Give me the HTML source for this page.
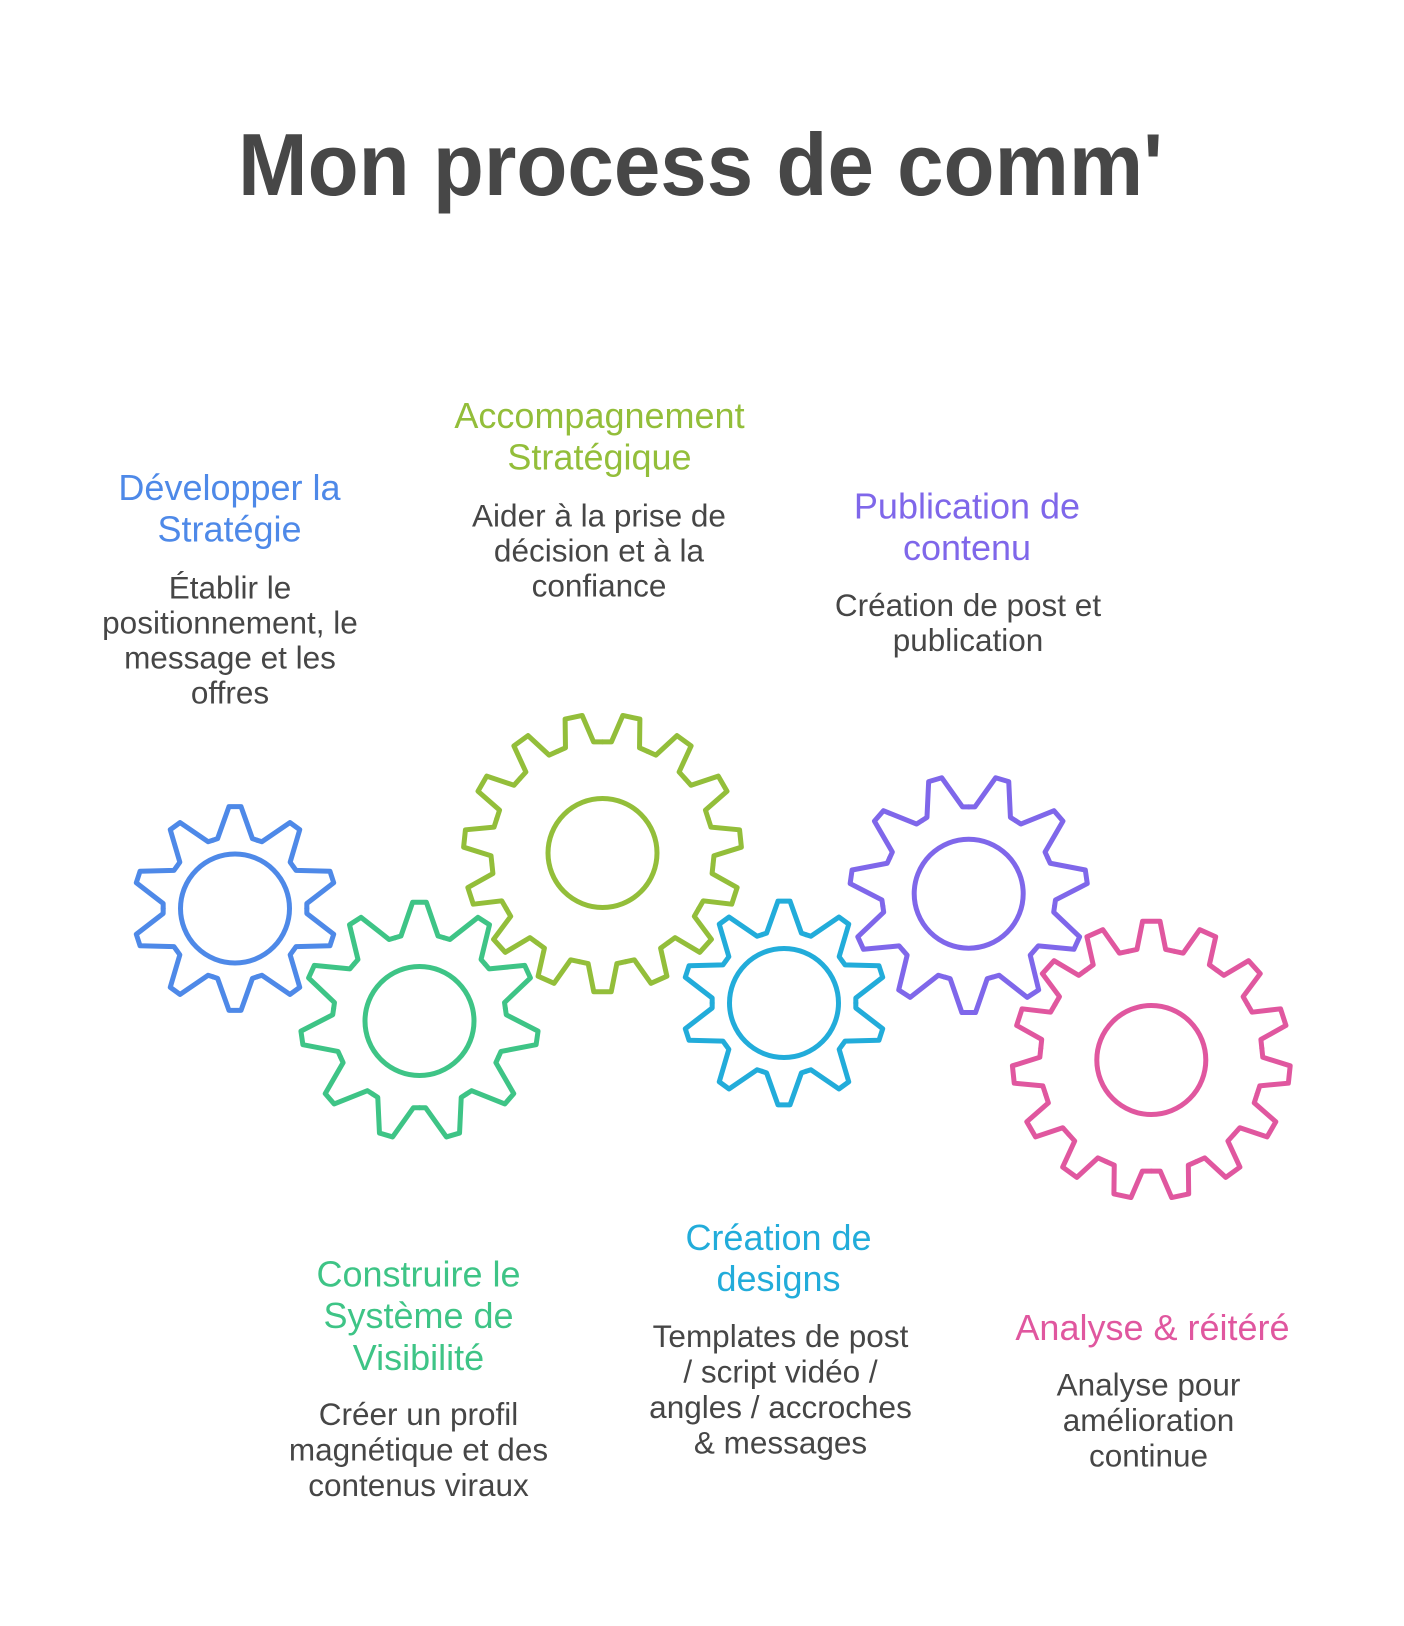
<!DOCTYPE html>
<html>
<head>
<meta charset="utf-8">
<style>
  html, body { margin: 0; padding: 0; background: #ffffff; }
  body { width: 1404px; height: 1626px; overflow: hidden; }
  svg { display: block; }
  .t { font-family: "Liberation Sans", Arial, sans-serif; }
  .h { font-size: 36px; text-anchor: middle; }
  .d { font-size: 31.5px; text-anchor: middle; fill: #464646; }
</style>
</head>
<body>
<svg width="1404" height="1626" viewBox="0 0 1404 1626" xmlns="http://www.w3.org/2000/svg">
  <rect width="1404" height="1626" fill="#ffffff"/>
  <defs>
    <polyline id="tA" fill="none" points="-22.19,-68.30 -17.42,-69.86 -6.05,-101.82 6.05,-101.82 17.42,-69.86 22.19,-68.30"/>
    <polyline id="tB2" fill="none" points="-24.45,-83.26 -18.53,-85.00 -6.85,-118.80 6.85,-118.80 18.53,-85.00 24.45,-83.26"/>
    <polyline id="tC" fill="none" points="-23.11,-108.71 -14.36,-110.57 -8.73,-138.73 8.73,-138.73 14.36,-110.57 23.11,-108.71"/>
  </defs>

  <!-- Title -->
  <text class="t" x="238" y="195" font-size="88" font-weight="bold" fill="#474747" textLength="925" lengthAdjust="spacingAndGlyphs">Mon process de comm'</text>

  <g fill="none" stroke-width="5" stroke-linejoin="round" stroke-linecap="round">
    <!-- Blue gear (10 teeth) -->
    <g transform="translate(235 908.5)" stroke="#4E89E8">
      <use href="#tA"/>
      <use href="#tA" transform="rotate(36)"/>
      <use href="#tA" transform="rotate(72)"/>
      <use href="#tA" transform="rotate(108)"/>
      <use href="#tA" transform="rotate(144)"/>
      <use href="#tA" transform="rotate(180)"/>
      <use href="#tA" transform="rotate(216)"/>
      <use href="#tA" transform="rotate(252)"/>
      <use href="#tA" transform="rotate(288)"/>
      <use href="#tA" transform="rotate(324)"/>
      <circle r="54.5"/>
    </g>

    <!-- Green gear (11 teeth) -->
    <g transform="translate(419.5 1021)" stroke="#3EC486">
      <use href="#tB2"/>
      <use href="#tB2" transform="rotate(32.727)"/>
      <use href="#tB2" transform="rotate(65.455)"/>
      <use href="#tB2" transform="rotate(98.182)"/>
      <use href="#tB2" transform="rotate(130.909)"/>
      <use href="#tB2" transform="rotate(163.636)"/>
      <use href="#tB2" transform="rotate(196.364)"/>
      <use href="#tB2" transform="rotate(229.091)"/>
      <use href="#tB2" transform="rotate(261.818)"/>
      <use href="#tB2" transform="rotate(294.545)"/>
      <use href="#tB2" transform="rotate(327.273)"/>
      <circle r="54.5"/>
    </g>

    <!-- Yellow-green gear (15 teeth) -->
    <g transform="translate(602.5 853)" stroke="#93BE3A">
      <use href="#tC" transform="rotate(12)"/>
      <use href="#tC" transform="rotate(36)"/>
      <use href="#tC" transform="rotate(60)"/>
      <use href="#tC" transform="rotate(84)"/>
      <use href="#tC" transform="rotate(108)"/>
      <use href="#tC" transform="rotate(132)"/>
      <use href="#tC" transform="rotate(156)"/>
      <use href="#tC" transform="rotate(180)"/>
      <use href="#tC" transform="rotate(204)"/>
      <use href="#tC" transform="rotate(228)"/>
      <use href="#tC" transform="rotate(252)"/>
      <use href="#tC" transform="rotate(276)"/>
      <use href="#tC" transform="rotate(300)"/>
      <use href="#tC" transform="rotate(324)"/>
      <use href="#tC" transform="rotate(348)"/>
      <circle r="54.5"/>
    </g>

    <!-- Cyan gear (10 teeth) -->
    <g transform="translate(784 1003)" stroke="#22ACDA">
      <use href="#tA"/>
      <use href="#tA" transform="rotate(36)"/>
      <use href="#tA" transform="rotate(72)"/>
      <use href="#tA" transform="rotate(108)"/>
      <use href="#tA" transform="rotate(144)"/>
      <use href="#tA" transform="rotate(180)"/>
      <use href="#tA" transform="rotate(216)"/>
      <use href="#tA" transform="rotate(252)"/>
      <use href="#tA" transform="rotate(288)"/>
      <use href="#tA" transform="rotate(324)"/>
      <circle r="54.5"/>
    </g>

    <!-- Purple gear (11 teeth) -->
    <g transform="translate(968.7 893.7)" stroke="#7F67EA">
      <use href="#tB2" transform="rotate(16.364)"/>
      <use href="#tB2" transform="rotate(49.091)"/>
      <use href="#tB2" transform="rotate(81.818)"/>
      <use href="#tB2" transform="rotate(114.545)"/>
      <use href="#tB2" transform="rotate(147.273)"/>
      <use href="#tB2" transform="rotate(180)"/>
      <use href="#tB2" transform="rotate(212.727)"/>
      <use href="#tB2" transform="rotate(245.455)"/>
      <use href="#tB2" transform="rotate(278.182)"/>
      <use href="#tB2" transform="rotate(310.909)"/>
      <use href="#tB2" transform="rotate(343.636)"/>
      <circle r="54.5"/>
    </g>

    <!-- Pink gear (15 teeth) -->
    <g transform="translate(1151.3 1060)" stroke="#E0579F">
      <use href="#tC"/>
      <use href="#tC" transform="rotate(24)"/>
      <use href="#tC" transform="rotate(48)"/>
      <use href="#tC" transform="rotate(72)"/>
      <use href="#tC" transform="rotate(96)"/>
      <use href="#tC" transform="rotate(120)"/>
      <use href="#tC" transform="rotate(144)"/>
      <use href="#tC" transform="rotate(168)"/>
      <use href="#tC" transform="rotate(192)"/>
      <use href="#tC" transform="rotate(216)"/>
      <use href="#tC" transform="rotate(240)"/>
      <use href="#tC" transform="rotate(264)"/>
      <use href="#tC" transform="rotate(288)"/>
      <use href="#tC" transform="rotate(312)"/>
      <use href="#tC" transform="rotate(336)"/>
      <circle r="54.5"/>
    </g>
  </g>

  <!-- Blue block -->
  <g class="t">
    <text class="h" x="229.5" y="500" fill="#4E89E8">Développer la</text>
    <text class="h" x="229.5" y="541.5" fill="#4E89E8">Stratégie</text>
    <text class="d" x="230" y="598.5">Établir le</text>
    <text class="d" x="230" y="633.5">positionnement, le</text>
    <text class="d" x="230" y="668.5">message et les</text>
    <text class="d" x="230" y="703.5">offres</text>
  </g>

  <!-- Yellow-green block -->
  <g class="t">
    <text class="h" x="599.5" y="428" fill="#93BE3A">Accompagnement</text>
    <text class="h" x="599.5" y="469.5" fill="#93BE3A">Stratégique</text>
    <text class="d" x="599" y="526.5">Aider à la prise de</text>
    <text class="d" x="599" y="561.5">décision et à la</text>
    <text class="d" x="599" y="596.5">confiance</text>
  </g>

  <!-- Purple block -->
  <g class="t">
    <text class="h" x="967" y="518.5" fill="#7F67EA">Publication de</text>
    <text class="h" x="967" y="560" fill="#7F67EA">contenu</text>
    <text class="d" x="968" y="616">Création de post et</text>
    <text class="d" x="968" y="651">publication</text>
  </g>

  <!-- Green block -->
  <g class="t">
    <text class="h" x="418.5" y="1286.5" fill="#3EC486">Construire le</text>
    <text class="h" x="418.5" y="1328" fill="#3EC486">Système de</text>
    <text class="h" x="418.5" y="1370" fill="#3EC486">Visibilité</text>
    <text class="d" x="418.5" y="1425">Créer un profil</text>
    <text class="d" x="418.5" y="1460.5">magnétique et des</text>
    <text class="d" x="418.5" y="1496">contenus viraux</text>
  </g>

  <!-- Cyan block -->
  <g class="t">
    <text class="h" x="778.5" y="1250" fill="#22ACDA">Création de</text>
    <text class="h" x="778.5" y="1291" fill="#22ACDA">designs</text>
    <text class="d" x="780.5" y="1347">Templates de post</text>
    <text class="d" x="780.5" y="1382.5">/ script vidéo /</text>
    <text class="d" x="780.5" y="1418">angles / accroches</text>
    <text class="d" x="780.5" y="1453.5">&amp; messages</text>
  </g>

  <!-- Pink block -->
  <g class="t">
    <text class="h" x="1152.5" y="1340" fill="#E0579F">Analyse &amp; réitéré</text>
    <text class="d" x="1148.5" y="1395.5">Analyse pour</text>
    <text class="d" x="1148.5" y="1431">amélioration</text>
    <text class="d" x="1148.5" y="1466.5">continue</text>
  </g>
</svg>
</body>
</html>
